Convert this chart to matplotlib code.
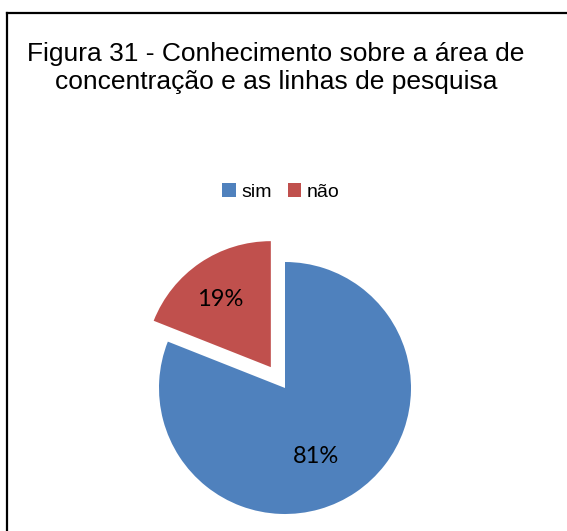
import numpy as np
import matplotlib.pyplot as plt
from matplotlib.lines import Line2D
from matplotlib.patches import Patch

# dados do gráfico
categorias = ['sim', 'não']
valores = [81, 19]
cores = ['#4F81BD', '#C0504D']
titulo = 'Figura 31 - Conhecimento sobre a área de\nconcentração e as linhas de pesquisa'

fonte = ['Liberation Sans', 'DejaVu Sans']

W, H = 567, 531
fig = plt.figure(figsize=(W / 100, H / 100), dpi=100)

# moldura (só topo e lado esquerdo aparecem no recorte)
fig.add_artist(Line2D([7 / W, 7 / W], [0, 1 - 12.5 / H], color='black', lw=1.6,
                      transform=fig.transFigure))
fig.add_artist(Line2D([7 / W, 1], [1 - 12.5 / H, 1 - 12.5 / H], color='black', lw=1.6,
                      transform=fig.transFigure))

fig.text(276 / W, 1 - 42 / H, titulo, ha='center', va='top', fontsize=19,
         family=fonte, linespacing=1.22)

# eixo do gráfico de pizza: raio ~126 px, centro em (285, 388)
L = 1.4
S = 126 * 2 * L
cx, cy = 285, H - 388
ax = fig.add_axes([(cx - S / 2) / W, (cy - S / 2) / H, S / W, S / H])
wedges, texts, autotexts = ax.pie(valores, colors=cores, startangle=90, counterclock=False,
                                  explode=[0, 0.2], autopct='%1.0f%%', pctdistance=0.6,
                                  textprops={'fontsize': 17, 'family': ['Lato', 'DejaVu Sans']})
ax.set_xlim(-L, L)
ax.set_ylim(-L, L)

# posição dos rótulos parecida com a do Excel
dist = [0.6, 0.67]
desvio = [-10, 3]
for w, t, d, a in zip(wedges, autotexts, dist, desvio):
    ang = np.deg2rad((w.theta1 + w.theta2) / 2 + a)
    x0, y0 = w.center
    t.set_position((x0 + d * np.cos(ang), y0 + d * np.sin(ang)))

handles = [Patch(facecolor=c, edgecolor='none') for c in cores]
fig.legend(handles, categorias, loc='center', bbox_to_anchor=(281 / W, 1 - 192 / H),
           ncol=2, frameon=False, handlelength=0.7, handleheight=0.7,
           handletextpad=0.3, columnspacing=0.8, prop={'family': fonte, 'size': 14})

fig.savefig('out.png', dpi=100)
